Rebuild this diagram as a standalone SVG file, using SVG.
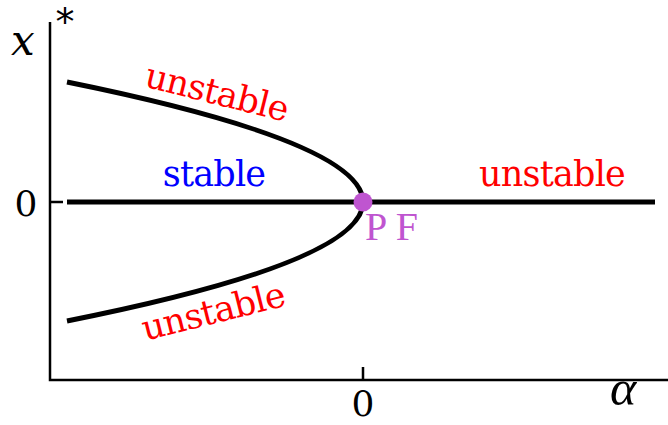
<svg xmlns="http://www.w3.org/2000/svg" width="668" height="425" viewBox="0 0 668 425">
<style>
.ax{stroke:#000;stroke-width:2.5;fill:none}
.br{stroke:#000;stroke-width:5;fill:none}
.t{font-family:"DejaVu Serif",serif;font-size:35px;letter-spacing:-0.8px}
.num{font-family:"DejaVu Serif",serif;font-size:36px;fill:#000}
.it{font-family:"DejaVu Serif",serif;font-style:italic;fill:#000}
.red{fill:#ff0000}
.blue{fill:#0000ff}
</style>
<rect width="668" height="425" fill="#fff"/>
<g id="axes">
<path class="ax" d="M50,22 V380 H668"/>
<path class="ax" d="M50,202 H63 M363,380 V367"/>
<text class="num" x="26" y="216" text-anchor="middle">0</text>
<text class="num" x="363" y="416" text-anchor="middle" font-size="34">0</text>
<text class="it" x="11" y="55" font-size="42">x</text>
<text x="65" y="35" font-family="DejaVu Sans,sans-serif" font-size="38" text-anchor="middle">*</text>
<text x="610" y="405" font-family="Liberation Serif,serif" font-style="italic" font-size="50">α</text>
</g>
<g id="connectors">
<path class="br" d="M67,202 H655"/>
<path class="br" d="M67,82 Q363,142 363,202 Q363,262 67,321"/>
</g>
<g id="labels">
<text class="t blue" x="214" y="186" text-anchor="middle">stable</text>
<text class="t red" x="552" y="186" text-anchor="middle">unstable</text>
<text class="t red" x="214" y="104" text-anchor="middle" transform="rotate(14 214 104)">unstable</text>
<text class="t red" x="216" y="323" text-anchor="middle" transform="rotate(-14 216 323)">unstable</text>
</g>
<g id="PF">
<circle cx="363" cy="202" r="9.5" fill="#bf55d0"/>
<text x="365" y="240" font-family="Liberation Serif,serif" font-size="40" fill="#bf55d0" xml:space="preserve">P F</text>
</g>
</svg>
